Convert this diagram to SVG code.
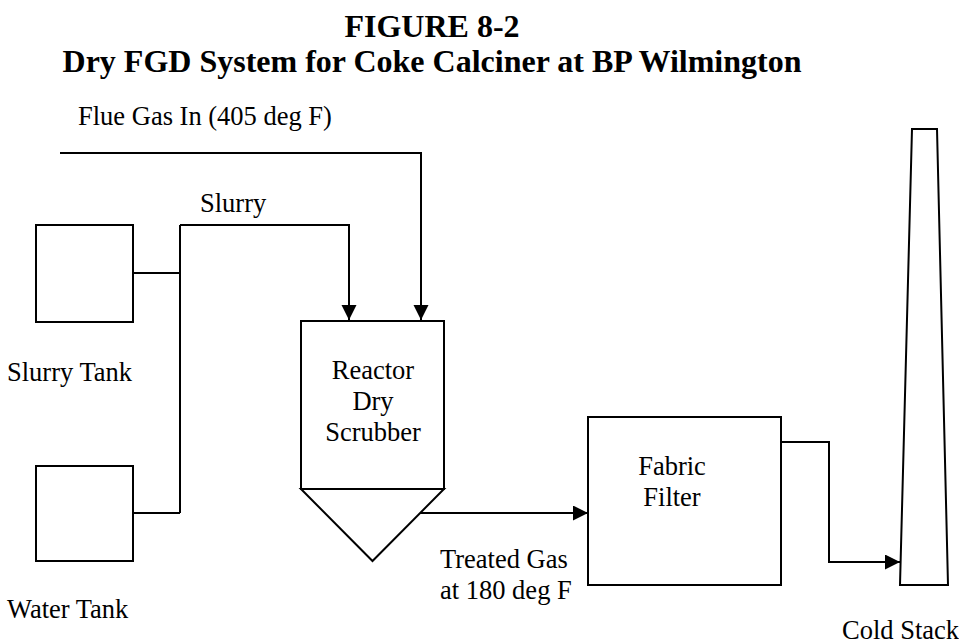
<svg xmlns="http://www.w3.org/2000/svg" width="959" height="644" viewBox="0 0 959 644">
  <style>
    text { font-family: "Liberation Serif", "Times New Roman", serif; fill: #000; }
    .title { font-size: 32px; font-weight: bold; text-anchor: middle; }
    .label { font-size: 26.5px; }
    .mid { text-anchor: middle; }
    .shape { fill: #fff; stroke: #000; stroke-width: 2; }
    .pipe { fill: none; stroke: #000; stroke-width: 2; }
  </style>
  <defs>
    <marker id="arrow" markerUnits="userSpaceOnUse" markerWidth="16" markerHeight="16" refX="15" refY="7.5" orient="auto">
      <path d="M0,0 L15,7.5 L0,15 Z" fill="#000"/>
    </marker>
  </defs>
  <rect width="959" height="644" fill="#fff"/>

  <g id="title">
    <text class="title" x="432" y="37">FIGURE 8-2</text>
    <text class="title" x="432" y="72">Dry FGD System for Coke Calciner at BP Wilmington</text>
  </g>

  <g id="connectors">
    <!-- flue gas inlet to reactor -->
    <path class="pipe" d="M60,153 H421 V320" marker-end="url(#arrow)"/>
    <!-- slurry feed header -->
    <path class="pipe" d="M180,225 H349 V320" marker-end="url(#arrow)"/>
    <path class="pipe" d="M180,225 V513"/>
    <path class="pipe" d="M133,273 H180"/>
    <path class="pipe" d="M133,513 H180"/>
    <!-- reactor to fabric filter -->
    <path class="pipe" d="M420,513 H588" marker-end="url(#arrow)"/>
    <!-- fabric filter to stack -->
    <path class="pipe" d="M781,442 H829 V562 H900" marker-end="url(#arrow)"/>
  </g>

  <g id="flue-gas-label">
    <text class="label" x="78" y="125">Flue Gas In (405 deg F)</text>
  </g>
  <g id="slurry-label">
    <text class="label" x="200" y="212">Slurry</text>
  </g>

  <g id="slurry-tank">
    <rect class="shape" x="36" y="225" width="97" height="97"/>
    <text class="label" x="7" y="381">Slurry Tank</text>
  </g>

  <g id="water-tank">
    <rect class="shape" x="36" y="466" width="97" height="95"/>
    <text class="label" x="7" y="618">Water Tank</text>
  </g>

  <g id="reactor">
    <rect class="shape" x="301" y="321" width="143" height="168"/>
    <polygon class="shape" points="301,489 372.5,561 444,489"/>
    <text class="label mid" x="373" y="379">Reactor</text>
    <text class="label mid" x="373" y="410">Dry</text>
    <text class="label mid" x="373" y="441">Scrubber</text>
  </g>

  <g id="treated-gas-label">
    <text class="label" x="440" y="568">Treated Gas</text>
    <text class="label" x="440" y="599">at 180 deg F</text>
  </g>

  <g id="fabric-filter">
    <rect class="shape" x="588" y="417" width="193" height="168"/>
    <text class="label mid" x="672" y="475">Fabric</text>
    <text class="label mid" x="672" y="506">Filter</text>
  </g>

  <g id="cold-stack">
    <polygon class="shape" points="912,129 937,129 948,585 900,585"/>
    <text class="label" x="842" y="639">Cold Stack</text>
  </g>
</svg>
